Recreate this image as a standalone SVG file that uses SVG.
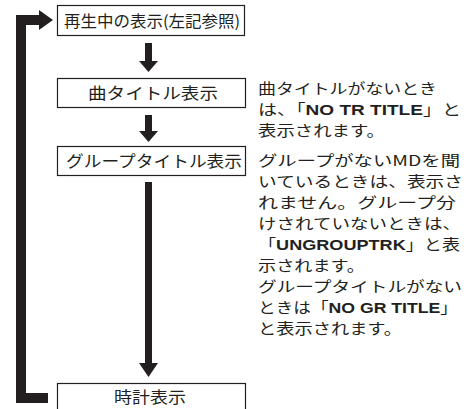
<svg xmlns="http://www.w3.org/2000/svg" width="466" height="409" viewBox="0 0 466 409">
<style>
.box{fill:#fff;stroke:#231f20;stroke-width:1.2}
.bt{font-family:"Noto Sans CJK JP","Noto Sans",sans-serif;font-size:16px;fill:#231f20;text-anchor:middle}
.rt{font-family:"Noto Sans CJK JP","Noto Sans",sans-serif;font-size:14.5px;fill:#231f20}
.b{font-family:"Liberation Sans","Noto Sans CJK JP",sans-serif;font-weight:bold}
.ar{fill:#231f20}
</style>
<g id="connectors">
<path d="M48 398 H21 V20 H40" fill="none" stroke="#231f20" stroke-width="10"/>
<polygon class="ar" points="39,10 53,20 39,30"/>
<rect class="ar" x="145" y="43" width="7" height="18"/>
<polygon class="ar" points="139,61 158,61 148.5,72"/>
<rect class="ar" x="145" y="115" width="7" height="16"/>
<polygon class="ar" points="139,131 158,131 148.5,142"/>
<rect class="ar" x="145" y="182" width="7" height="181"/>
<polygon class="ar" points="139,363 158,363 148.5,377"/>
</g>
<g id="node1">
<rect class="box" x="57.5" y="5.5" width="187" height="30"/>
<text class="bt" x="152" y="26.5" textLength="176" lengthAdjust="spacingAndGlyphs">再生中の表示(左記参照)</text>
</g>
<g id="node2">
<rect class="box" x="57.5" y="78.5" width="188" height="29"/>
<text class="bt" x="153" y="98.5" textLength="130" lengthAdjust="spacingAndGlyphs">曲タイトル表示</text>
</g>
<g id="node3">
<rect class="box" x="57.5" y="146.5" width="188" height="29"/>
<text class="bt" x="154" y="166.5" textLength="176" lengthAdjust="spacingAndGlyphs">グループタイトル表示</text>
</g>
<g id="node4">
<rect class="box" x="57.5" y="383.5" width="188" height="30"/>
<text class="bt" x="150" y="402.5" textLength="72" lengthAdjust="spacingAndGlyphs">時計表示</text>
</g>
<g id="note1">
<text class="rt" x="258" y="94" textLength="179" lengthAdjust="spacingAndGlyphs">曲タイトルがないとき</text>
<text class="rt" x="258" y="115" textLength="203" lengthAdjust="spacingAndGlyphs">は、「<tspan class="b">NO TR TITLE</tspan>」と</text>
<text class="rt" x="258" y="136" textLength="127" lengthAdjust="spacingAndGlyphs">表示されます。</text>
</g>
<g id="note2">
<text class="rt" x="258" y="166" textLength="202" lengthAdjust="spacingAndGlyphs">グループがないMDを聞</text>
<text class="rt" x="258" y="187" textLength="205" lengthAdjust="spacingAndGlyphs">いているときは、表示さ</text>
<text class="rt" x="258" y="208" textLength="198" lengthAdjust="spacingAndGlyphs">れません。グループ分</text>
<text class="rt" x="258" y="229" textLength="203" lengthAdjust="spacingAndGlyphs">けされていないときは、</text>
<text class="rt" x="258" y="250" textLength="202" lengthAdjust="spacingAndGlyphs">「<tspan class="b">UNGROUPTRK</tspan>」と表</text>
<text class="rt" x="258" y="271" textLength="107" lengthAdjust="spacingAndGlyphs">示されます。</text>
<text class="rt" x="258" y="292" textLength="204" lengthAdjust="spacingAndGlyphs">グループタイトルがない</text>
<text class="rt" x="258" y="313" textLength="200" lengthAdjust="spacingAndGlyphs">ときは「<tspan class="b">NO GR TITLE</tspan>」</text>
<text class="rt" x="258" y="334" textLength="144" lengthAdjust="spacingAndGlyphs">と表示されます。</text>
</g>
</svg>
